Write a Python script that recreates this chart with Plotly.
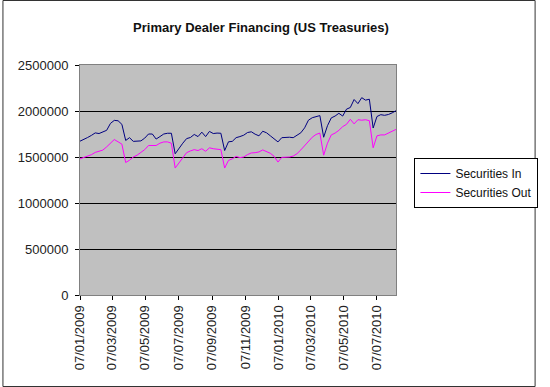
import pandas as pd
import plotly.graph_objects as go

# Weekly observations (Wednesdays), starting 07/01/2009
week_start = "2009-01-07"
n_weeks = 84
dates = pd.date_range(start=week_start, periods=n_weeks, freq="7D")

securities_in = [
    1672000, 1690000, 1712000, 1735000, 1762000, 1755000, 1770000, 1790000, 1865000, 1898000,
    1894000, 1855000, 1680000, 1710000, 1670000, 1670000, 1675000, 1705000, 1750000, 1750000,
    1695000, 1722000, 1750000, 1758000, 1758000, 1535000, 1600000, 1650000, 1700000, 1712000,
    1745000, 1722000, 1770000, 1722000, 1778000, 1755000, 1760000, 1758000, 1570000, 1665000,
    1670000, 1710000, 1722000, 1737000, 1766000, 1774000, 1748000, 1730000, 1780000, 1763000,
    1730000, 1700000, 1664000, 1710000, 1715000, 1715000, 1710000, 1737000, 1763000, 1817000,
    1900000, 1927000, 1938000, 1950000, 1715000, 1840000, 1925000, 1945000, 1975000, 1945000,
    2020000, 2038000, 2125000, 2080000, 2145000, 2118000, 2128000, 1815000, 1940000, 1960000,
    1953000, 1962000, 1980000, 2003000,
]

securities_out = [
    1480000, 1495000, 1510000, 1525000, 1550000, 1565000, 1575000, 1610000, 1645000, 1690000,
    1665000, 1640000, 1440000, 1465000, 1500000, 1520000, 1550000, 1580000, 1625000, 1625000,
    1625000, 1650000, 1664000, 1664000, 1650000, 1380000, 1440000, 1500000, 1547000, 1566000,
    1580000, 1570000, 1590000, 1562000, 1600000, 1590000, 1588000, 1580000, 1380000, 1463000,
    1480000, 1507000, 1493000, 1500000, 1526000, 1544000, 1547000, 1555000, 1577000, 1555000,
    1540000, 1507000, 1445000, 1496000, 1496000, 1500000, 1510000, 1536000, 1577000, 1620000,
    1670000, 1715000, 1745000, 1760000, 1520000, 1650000, 1740000, 1760000, 1790000, 1830000,
    1855000, 1910000, 1860000, 1905000, 1900000, 1905000, 1895000, 1600000, 1730000, 1740000,
    1740000, 1758000, 1780000, 1800000,
]

tick_dates = ["2009-01-07", "2009-03-07", "2009-05-07", "2009-07-07", "2009-09-07",
              "2009-11-07", "2010-01-07", "2010-03-07", "2010-05-07", "2010-07-07"]
tick_labels = ["07/01/2009", "07/03/2009", "07/05/2009", "07/07/2009", "07/09/2009",
               "07/11/2009", "07/01/2010", "07/03/2010", "07/05/2010", "07/07/2010"]
y_ticks = [0, 500000, 1000000, 1500000, 2000000, 2500000]

FONT = "Liberation Sans, Arial, sans-serif"

fig = go.Figure()
fig.add_trace(go.Scatter(x=dates, y=securities_in, mode="lines", name="Securities In",
                         line=dict(color="#000080", width=1)))
fig.add_trace(go.Scatter(x=dates, y=securities_out, mode="lines", name="Securities Out",
                         line=dict(color="#FF00FF", width=1)))

L, R, T, B = 80, 144, 65, 92
W, H = 550, 387
pw, ph = W - L - R, H - T - B

fig.update_layout(
    width=W, height=H,
    margin=dict(l=L, r=R, t=T, b=B, pad=0),
    paper_bgcolor="white",
    plot_bgcolor="#C0C0C0",
    font=dict(family=FONT, size=13, color="#222222"),
    title=dict(text="<b>Primary Dealer Financing (US Treasuries)</b>",
               x=261 / W, xanchor="center", y=1 - 27 / H, yanchor="middle",
               font=dict(family=FONT, size=13, color="#111111")),
    showlegend=True,
    legend=dict(x=(425 - L) / pw, y=(295 - 158) / ph, xanchor="left", yanchor="top",
                bordercolor="#000000", borderwidth=1, bgcolor="white",
                font=dict(family=FONT, size=12, color="#111111"),
                tracegroupgap=0, itemwidth=30),
    xaxis=dict(
        range=[dates[0], dates[-1]],
        tickvals=tick_dates, ticktext=tick_labels, tickangle=-90,
        ticks="outside", ticklen=4, tickcolor="#000000",
        showgrid=False, zeroline=False,
        showline=True, linecolor="#808080", linewidth=1, mirror=True,
        tickfont=dict(family=FONT, size=13, color="#222222"),
    ),
    yaxis=dict(
        range=[0, 2500000],
        tickvals=y_ticks, ticktext=[str(v) for v in y_ticks],
        ticks="outside", ticklen=4, tickcolor="#000000",
        ticklabelstandoff=4,
        showgrid=True, gridcolor="#000000", gridwidth=1,
        zeroline=False,
        showline=True, linecolor="#808080", linewidth=1, mirror=True,
        tickfont=dict(family=FONT, size=13, color="#222222"),
    ),
    shapes=[dict(type="rect", xref="paper", yref="paper",
                 x0=(0.5 - L) / pw, x1=(W - 0.5 - L) / pw,
                 y0=(H - B - (H - 0.5)) / ph, y1=(H - B - 0.5) / ph,
                 line=dict(color="#333333", width=1), fillcolor="rgba(0,0,0,0)",
                 layer="above")],
)

fig.write_html("out.html", config={"displayModeBar": False},
               post_script="document.body.style.margin='0';document.body.style.overflow='hidden';")
